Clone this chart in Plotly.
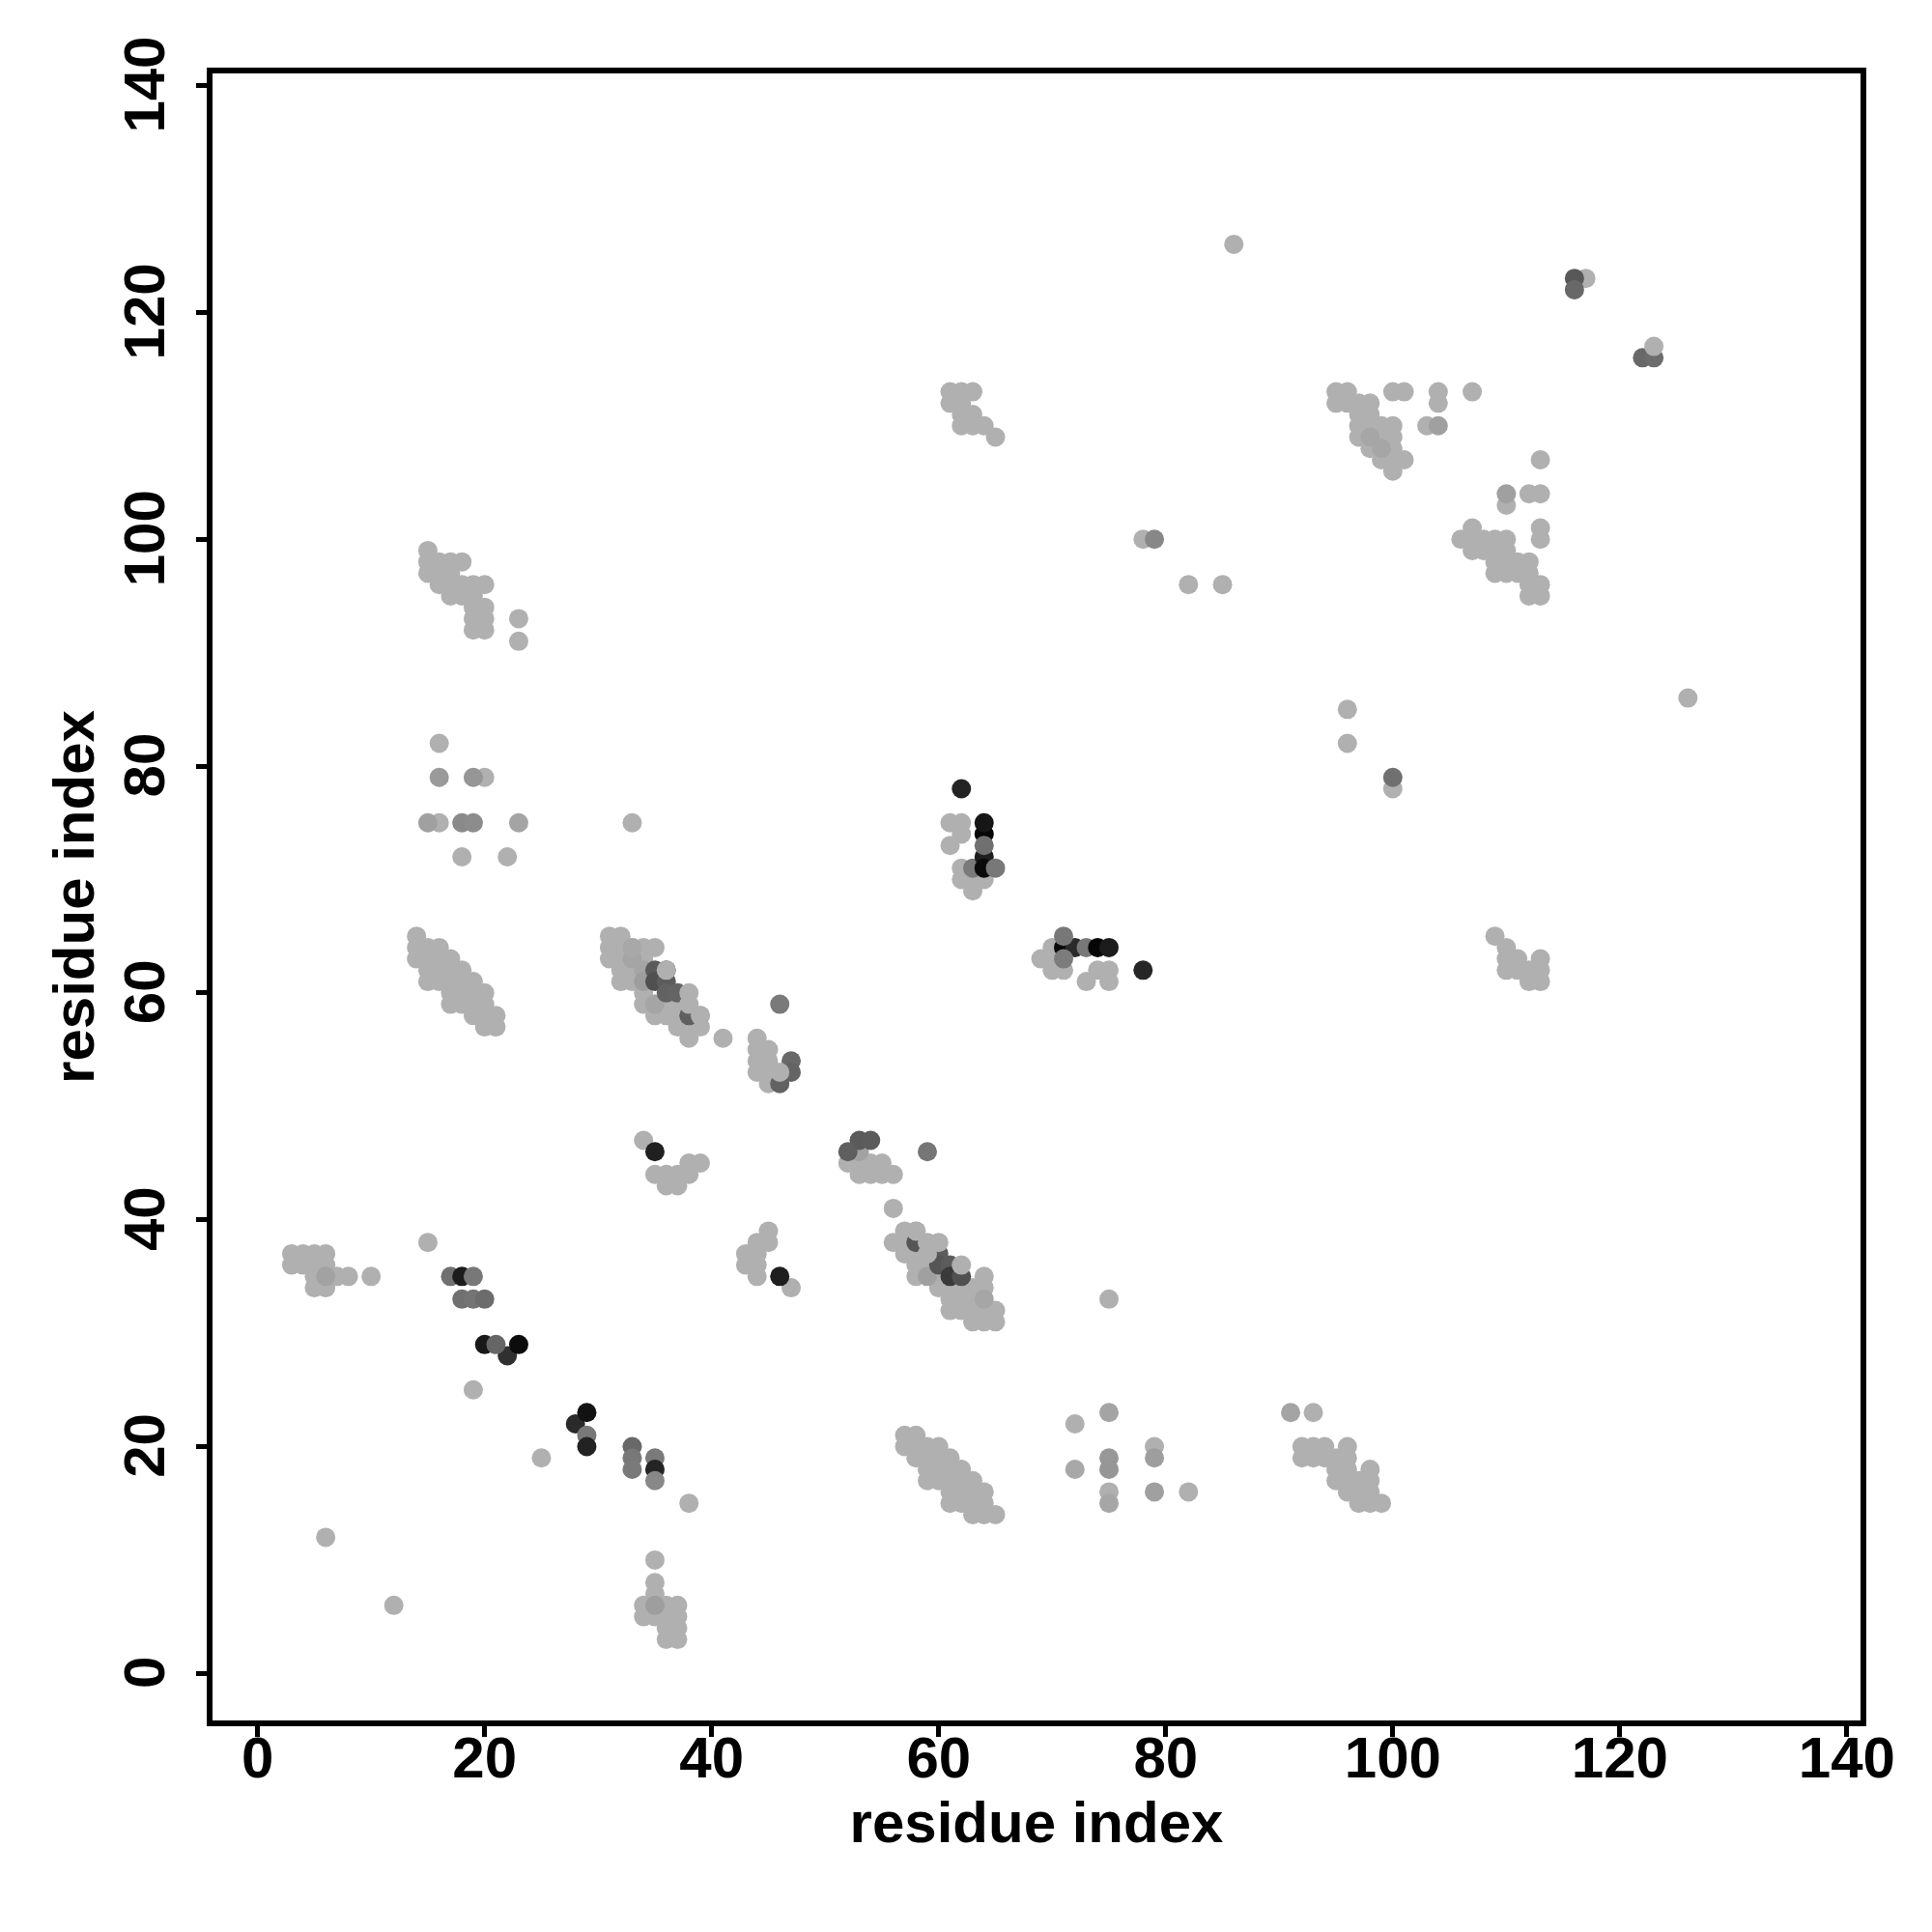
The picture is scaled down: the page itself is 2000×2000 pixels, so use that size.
import plotly.graph_objects as go

# Light contacts, listed as {residue y: [residue x, ...]}
rows_left = {
    99: [15], 98: [15, 16, 17, 18], 97: [15, 16, 17], 96: [16, 17, 18, 19, 20], 95: [17, 18, 19],
    94: [19, 20], 93: [19, 20, 23], 92: [19, 20], 91: [23],
    82: [16], 79: [20], 75: [16, 33], 72: [18, 22],
    65: [14], 64: [14, 15, 16], 63: [14, 15, 16, 17], 62: [15, 16, 17, 18], 61: [15, 16, 17, 18, 19],
    60: [17, 18, 19, 20], 59: [17, 18, 19, 20], 58: [19, 20, 21], 57: [20, 21],
    38: [15], 37: [3, 4, 5, 6], 36: [3, 4, 5, 6], 35: [5, 7, 8, 10], 34: [5, 6],
    25: [19], 19: [25], 15: [38], 12: [6],
    10: [35], 8: [35], 7: [35], 6: [12, 34, 36, 37], 5: [34, 35, 36, 37], 4: [36, 37], 3: [36, 37],
}
rows_mid = {
    65: [31, 32], 64: [31, 32, 33, 34, 35], 63: [31, 32, 34], 62: [32, 33, 34],
    61: [32, 33], 60: [34], 59: [34, 35, 36, 37], 58: [35, 36, 37, 39], 57: [37, 38, 39], 56: [38, 41, 44],
    55: [44, 45], 54: [44, 45], 53: [44, 45], 52: [45],
    47: [34], 45: [38, 39, 52, 53, 54, 55], 44: [35, 36, 37, 38, 53, 54, 55, 56], 43: [36, 37], 41: [56],
    39: [45, 57, 58], 38: [44, 45, 56, 57], 37: [43, 44, 57, 58, 59], 36: [43, 44, 58, 59],
    35: [44, 58, 60, 64], 34: [47, 60, 61, 62, 63, 64], 33: [61, 62, 63, 75], 32: [61, 62, 63, 64, 65], 31: [63, 64, 65],
    22: [72], 21: [57, 58], 20: [57, 58, 59, 60], 19: [58, 59, 60, 61], 18: [59, 60, 61, 62], 17: [59, 60, 61, 62, 63],
    16: [61, 62, 63, 64], 15: [61, 62, 63, 64], 14: [63, 64, 65],
}
rows_right = {
    126: [86], 123: [117], 113: [61, 62, 63, 95, 96, 100, 101, 104, 107],
    112: [61, 62, 95, 96, 97, 98, 104], 111: [62, 63, 97, 98], 110: [62, 63, 64, 97, 98, 99, 100, 103],
    109: [65, 97, 99, 100], 108: [98, 99, 100], 107: [99, 100, 101, 113], 106: [100],
    104: [112, 113], 103: [110], 101: [107, 113], 100: [78, 106, 107, 108, 109, 110, 113],
    99: [107, 108, 109, 110], 98: [109, 110, 111, 112], 97: [109, 110, 111, 112],
    96: [82, 85, 112, 113], 95: [112, 113], 86: [126], 85: [96], 82: [96], 78: [100],
    75: [61, 62], 74: [62], 73: [61], 71: [62], 70: [62, 63, 64], 69: [63],
    65: [109], 64: [70, 110], 63: [69, 70, 110, 111, 113], 62: [70, 71, 74, 75, 110, 111, 112, 113], 61: [73, 75, 112, 113],
    23: [93], 20: [79, 92, 93, 94, 96], 19: [92, 93, 94, 95, 96], 18: [95, 96, 98],
    17: [95, 96, 97, 98], 16: [75, 82, 96, 97, 98], 15: [97, 98, 99],
}

# Points that are visibly darker, drawn in this order above the light ones
dark_x = [33, 34, 35, 33, 35, 34, 6, 53, 59, 64, 98, 99, 110, 104, 75, 75, 75, 75, 79, 79, 72,
          91, 16, 19, 15, 18, 19, 23,
          46, 38, 35, 36, 35, 36, 36, 37, 47, 47, 46, 35, 17, 18, 19, 18, 19, 20,
          22, 20, 21, 23, 28, 29, 29, 29, 33, 33, 33, 35, 35, 35, 46,
          53, 54, 52, 59, 58, 60, 60, 61, 61, 62,
          62, 63, 64, 64, 65, 64, 64, 64,
          71, 72, 73, 74, 75, 71, 71, 78, 79, 100, 116, 116, 122, 123]
dark_y = [63, 62, 59, 64, 6, 61, 35, 46, 35, 33, 109, 108, 104, 110, 23, 19, 18, 15, 19, 16, 18,
          23, 79, 79, 75, 75, 75, 75,
          59, 58, 62, 62, 61, 61, 60, 60, 54, 53, 52, 46, 35, 35, 35, 33, 33, 33,
          28, 29, 29, 29, 22, 23, 21, 20, 20, 19, 18, 19, 18, 17, 35,
          47, 47, 46, 46, 38, 37, 36, 36, 35, 35,
          78, 71, 72, 71, 71, 74, 73, 75,
          64, 64, 64, 64, 64, 65, 63, 62, 100, 79, 123, 122, 116, 116]
dark_gray = [165, 165, 165, 168, 158, 158, 162, 162, 160, 166, 166, 166, 160, 160, 164, 152, 150, 166, 158, 160, 168,
             164, 154, 150, 160, 138, 140, 164,
             122, 95, 90, 88, 80, 92, 98, 100, 105, 100, 98, 32, 112, 28, 120, 112, 116, 108,
             48, 24, 102, 12, 42, 18, 120, 34, 104, 120, 122, 122, 36, 136, 30,
             90, 92, 95, 118, 85, 92, 85, 92, 58, 80,
             36, 122, 30, 10, 120, 6, 112, 22,
             10, 42, 120, 6, 28, 120, 124, 38, 135, 112, 88, 104, 104, 108]

# Light points that sit on top of the darker ones
top_x = [36, 38, 38, 39, 46, 62, 58, 59, 59, 60, 123]
top_y = [62, 60, 59, 58, 53, 36, 39, 38, 37, 38, 117]

tick_values = [0, 20, 40, 60, 80, 100, 120, 140]
axis_title = "residue index"
light_gray = 176
marker_size = 20


def flatten(rows):
    xs, ys = [], []
    for y, values in rows.items():
        for x in values:
            xs.append(x)
            ys.append(y)
    return xs, ys


base_x, base_y = [], []
for rows in (rows_left, rows_mid, rows_right):
    xs, ys = flatten(rows)
    base_x += xs
    base_y += ys

light = f"rgb({light_gray},{light_gray},{light_gray})"
fig = go.Figure()
fig.add_trace(go.Scatter(x=base_x, y=base_y, mode="markers", hoverinfo="skip",
                         marker=dict(size=marker_size, color=light, line=dict(width=0))))
fig.add_trace(go.Scatter(x=dark_x, y=dark_y, mode="markers", hoverinfo="skip",
                         marker=dict(size=marker_size, color=[f"rgb({g},{g},{g})" for g in dark_gray], line=dict(width=0))))
fig.add_trace(go.Scatter(x=top_x, y=top_y, mode="markers", hoverinfo="skip",
                         marker=dict(size=marker_size, color=light, line=dict(width=0))))

font = dict(family="Liberation Sans", size=60, color="#000000")
axis_common = dict(tickmode="array", tickvals=tick_values, ticktext=[f"<b>{v}</b>" for v in tick_values],
                   tickfont=font, showgrid=False, zeroline=False, showline=True, mirror=True,
                   linecolor="black", linewidth=6, ticks="outside", ticklen=11, tickwidth=5, tickcolor="black")
fig.update_layout(
    width=1984, height=1984, autosize=False, showlegend=False,
    paper_bgcolor="white", plot_bgcolor="white",
    margin=dict(l=212, r=66, t=68, b=211),
    xaxis=dict(range=[-3.97, 141.2], ticklabelstandoff=-30,
               title=dict(text=f"<b>{axis_title}</b>", font=font, standoff=14), **axis_common),
    yaxis=dict(range=[-4.148, 141.07], tickangle=-90, ticklabelstandoff=9, ticklabelshift=8,
               title=dict(text=f"<b>{axis_title}</b>", font=font, standoff=1), **axis_common),
)
fig.write_html("out.html")
